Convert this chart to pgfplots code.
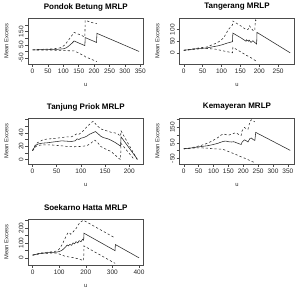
\documentclass[border=0pt]{standalone}
\usepackage{pgfplots}
\pgfplotsset{compat=1.18}
\usepackage{fontspec}
\setmainfont{Liberation Sans}

% Common look of the five mean residual life panels
\pgfplotsset{
  mrl/.style={
    scale only axis,
    width=115pt, height=46pt,
    anchor=north west,
    axis line style={black!70, line width=0.5pt},
    tick style={black!70, line width=0.5pt},
    tick align=outside,
    tick pos=left,
    major tick length=2.8pt,
    /pgf/number format/assume math mode=true,
    tick label style={font=\fontsize{6.5}{7}\selectfont, text=black!85},
    yticklabel style={rotate=90, anchor=south, inner sep=1.8pt},
    xticklabel style={inner sep=1.8pt},
    xlabel={u}, ylabel={Mean Excess},
    label style={font=\fontsize{5.8}{7}\selectfont, text=black!85},
    xlabel style={at={(axis description cs:0.5,0)}, anchor=center, yshift=-20.5pt},
    ylabel style={at={([xshift=-22pt]axis description cs:0,0.5)}, anchor=center},
    title style={at={(axis description cs:0.5,1)}, anchor=center, yshift=5pt,
      font=\bfseries\fontsize{8}{9}\selectfont},
  },
  mrlmean/.style={black!85, line width=0.55pt},
  mrlci/.style={black!85, line width=0.55pt, dash pattern=on 2.2pt off 2.2pt},
}

\begin{document}
\begin{tikzpicture}
\useasboundingbox (0,0) rectangle (297pt,290pt);

% ---------------- Pondok Betung ----------------
\begin{axis}[mrl, at={(28.3pt,272pt)},
  title={Pondok Betung MRLP},
  xmin=-13.8, xmax=359.8, ymin=-95, ymax=253,
  xtick={0,50,...,350},
  ytick={-50,0,50,100,150,200}, yticklabels={-50,,50,,150,}]
\addplot[mrlmean] coordinates {(0,12) (10,12) (20,13) (30,13) (40,14) (50,14) (60,15) (70,15) (80,16) (90,18) (100,20) (110,28) (118,42) (127,60) (135,79) (150,64) (164,50) (170,44) (171,105) (190,86) (204,72) (208,68) (209,137) (346,0)};
\addplot[mrlci] coordinates {(0,12) (10,13) (20,15) (30,16) (40,17) (50,18) (60,19) (70,21) (80,24) (90,28) (95,32) (105,50) (115,80) (125,112) (135,144) (150,130) (166,114) (170,110) (171,236) (190,220) (209,210)};
\addplot[mrlci] coordinates {(0,12) (10,11) (20,11) (30,10) (40,11) (50,10) (60,11) (70,9) (80,9) (90,8) (100,7) (110,6) (122,5) (135,5) (150,-12) (166,-32) (170,-36) (171,-40) (190,-58) (209,-77)};
\end{axis}

% ---------------- Tangerang ----------------
\begin{axis}[mrl, at={(179.5pt,272pt)},
  title={Tangerang MRLP},
  xmin=-11.3, xmax=293.3, ymin=-48, ymax=150,
  xtick={0,50,...,250},
  ytick={0,50,100}, yticklabels={0,50,100}]
\addplot[mrlmean] coordinates {(0,11) (10,13) (20,15) (30,17) (40,19) (50,20) (61,21) (70,24) (80,27) (90,30) (100,34) (106,37) (115,42) (129,48) (130,85) (150,66) (165,50) (166,56) (172,50) (173,55) (178,45) (183,52) (190,42) (193,38) (194,88) (282,0)};
\addplot[mrlci] coordinates {(0,11) (20,16) (40,21) (60,25) (84,40) (95,50) (106,65) (118,100) (129,120) (130,137) (150,117) (165,100) (170,100) (174,116) (183,97) (188,95) (190,142) (194,137)};
\addplot[mrlci] coordinates {(0,11) (20,13) (40,17) (60,19) (84,16) (95,12) (106,8) (118,4) (129,0) (130,24) (150,5) (165,-10) (175,-18) (183,-26) (190,-34) (194,-40)};
\end{axis}

% ---------------- Tanjung Priok ----------------
\begin{axis}[mrl, at={(28.3pt,172pt)},
  title={Tanjung Priok MRLP},
  xmin=-8.8, xmax=229, ymin=-7, ymax=62.5,
  xtick={0,50,...,200},
  ytick={0,10,...,60}, yticklabels={0,,20,,40,,}]
\addplot[mrlmean] coordinates {(0,13) (2,16) (5,19.5) (8,22) (12.5,23.4) (20,24.5) (30,25) (40,26) (51,27) (60,28) (70,27.5) (80,27) (88,28) (92,31) (96,30) (100,32) (106,33) (112,35) (118,38) (124,40) (130,42) (135,39) (141,35) (146,33) (151,32) (156,31) (162,29) (167,27) (172,25) (176,23) (180,21) (182,20) (183,34) (217,0)};
\addplot[mrlci] coordinates {(0,13) (2,17) (5,21) (8,24) (12,26) (23,30) (35,31) (50,32) (60,33) (72,34) (80,34) (86,36) (92,39) (96,38) (100,40) (106,44) (112,49) (118,53) (124,57) (126,57.6) (132,52) (141,46) (150,44) (162,41) (170,40) (176,39) (180,36) (182,35) (183,43) (217,-1)};
\addplot[mrlci] coordinates {(0,13) (2,15) (5,18) (8,20) (12,21) (20,22) (37,22) (50,21) (60,20.5) (72,19.5) (85,19) (99,19.5) (106,20) (113,21) (120,24) (126,28) (129,29) (135,25) (141,19.5) (150,16) (162,12) (170,7) (176,3) (179,1) (182,0) (183,24) (210,0)};
\end{axis}

% ---------------- Kemayeran ----------------
\begin{axis}[mrl, at={(179.5pt,172pt)},
  title={Kemayeran MRLP},
  xmin=-14.3, xmax=372.3, ymin=-86, ymax=211,
  xtick={0,50,...,350},
  ytick={-50,0,50,100,150,200}, yticklabels={-50,,50,,150,}]
\addplot[mrlmean] coordinates {(0,12) (20,16) (40,22) (60,27) (80,32) (100,40) (115,48) (125,55) (133,60) (141,62) (150,58) (160,56) (168,58) (176,52) (185,45) (193,40) (196,55) (204,70) (210,64) (216,56) (222,78) (227,82) (233,72) (239,66) (242,118) (358,2)};
\addplot[mrlci] coordinates {(0,12) (20,17) (40,25) (60,35) (80,48) (100,68) (115,85) (125,100) (133,108) (141,104) (150,100) (160,106) (168,112) (176,116) (185,104) (193,98) (196,128) (204,150) (210,142) (216,138) (222,185) (227,200) (233,192) (239,186)};
\addplot[mrlci] coordinates {(0,12) (20,15) (40,18) (60,18) (80,16) (100,12) (115,11) (125,10) (133,8) (150,-5) (176,-25) (193,-40) (204,-48) (216,-58) (227,-68) (236,-75)};
\end{axis}

% ---------------- Soekarno Hatta ----------------
\begin{axis}[mrl, at={(28.3pt,71pt)},
  title={Soekarno Hatta MRLP},
  xmin=-16, xmax=416, ymin=-48, ymax=260,
  xtick={0,100,...,400},
  ytick={0,50,...,250}, yticklabels={0,,100,,200,}]
\addplot[mrlmean] coordinates {(0,18) (15,24) (30,30) (50,33) (70,36) (90,38) (100,42) (110,50) (118,62) (125,75) (130,86) (135,80) (140,90) (147,84) (152,100) (158,94) (163,108) (170,100) (175,115) (182,108) (188,124) (192,118) (193,165) (310,48) (311,89) (400,0)};
\addplot[mrlci] coordinates {(0,18) (15,25) (30,32) (50,36) (70,40) (90,45) (100,58) (110,85) (118,115) (125,140) (132,165) (138,170) (143,158) (150,170) (158,185) (165,200) (172,222) (180,240) (188,248) (192,247) (193,250) (310,133)};
\addplot[mrlci] coordinates {(0,18) (15,23) (30,28) (50,30) (70,32) (90,31) (100,26) (110,18) (120,12) (130,8) (140,5) (150,2) (160,-2) (170,-6) (180,-12) (188,-16) (192,-18) (193,80) (310,-37)};
\end{axis}
\end{tikzpicture}
\end{document}
